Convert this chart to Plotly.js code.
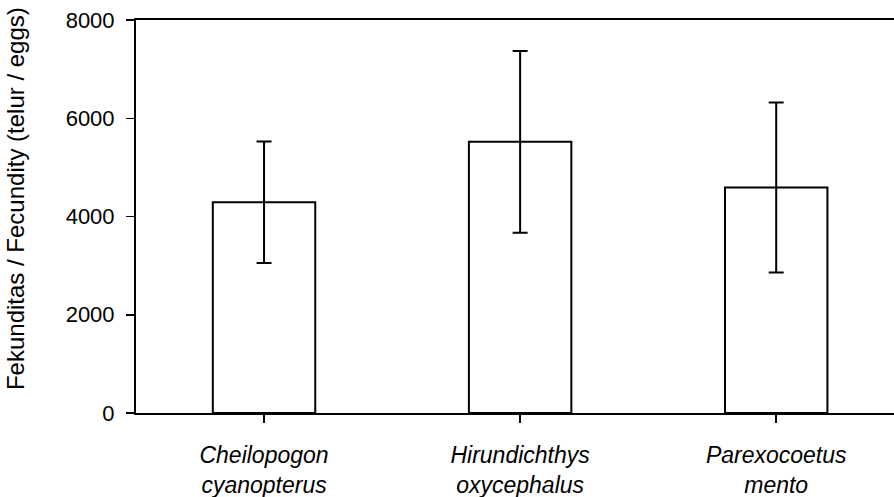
<!DOCTYPE html>
<html><head><meta charset="utf-8">
<script src="https://cdn.plot.ly/plotly-3.0.1.min.js"></script>
<style>html,body{margin:0;padding:0;background:#fff;}#chart{width:894px;height:497px;}</style>
</head><body><div id="chart"></div>
<script>
const categories = ["<i>Cheilopogon<br>cyanopterus</i>", "<i>Hirundichthys<br>oxycephalus</i>", "<i>Parexocoetus<br>mento</i>"];
const fecundity = [4290, 5520, 4590];
const errorSD = [1235, 1850, 1730];
const yTickVals = [0, 2000, 4000, 6000, 8000];
const yTitle = "Fekunditas / Fecundity (telur / eggs)";

const font = "Liberation Sans, Arial, sans-serif";
const trace = {
  type: "bar", x: [0,1,2], y: fecundity, width: 0.4,
  marker: {color: "#ffffff", line: {color: "#000", width: 2}},
  error_y: {type: "data", array: errorSD, visible: true, color: "#000", thickness: 2, width: 7.5},
  hoverinfo: "none"
};
const layout = {
  width: 894, height: 497,
  margin: {l: 136, r: 0, t: 20, b: 84, pad: 0},
  paper_bgcolor: "#fff", plot_bgcolor: "#fff",
  showlegend: false, bargap: 0.6,
  font: {family: font, color: "#000", size: 22},
  xaxis: {
    range: [-0.5, 2.46], tickmode: "array", tickvals: [0,1,2], ticktext: categories,
    tickson: "boundaries", ticks: "outside", ticklen: 8, tickwidth: 1.5, tickcolor: "#000",
    showline: true, linecolor: "#000", linewidth: 2, mirror: true,
    showgrid: false, zeroline: false, ticklabelstandoff: 12,
    tickfont: {family: font, size: 23, color: "#000"}
  },
  yaxis: {
    range: [0, 8000], tickmode: "array", tickvals: yTickVals, ticktext: yTickVals.map(String),
    ticks: "outside", ticklen: 8, tickwidth: 1.5, tickcolor: "#000",
    showline: true, linecolor: "#000", linewidth: 2,
    showgrid: false, zeroline: false, ticklabelstandoff: 7,
    tickfont: {family: font, size: 22, color: "#000"}
  },
  annotations: [{
    text: yTitle, xref: "paper", yref: "paper", x: -0.158, y: 0.545,
    xanchor: "center", yanchor: "middle", textangle: -90, showarrow: false,
    font: {family: font, size: 24, color: "#000"}
  }]
};
Plotly.newPlot("chart", [trace], layout, {staticPlot: true, displayModeBar: false});
</script></body></html>
